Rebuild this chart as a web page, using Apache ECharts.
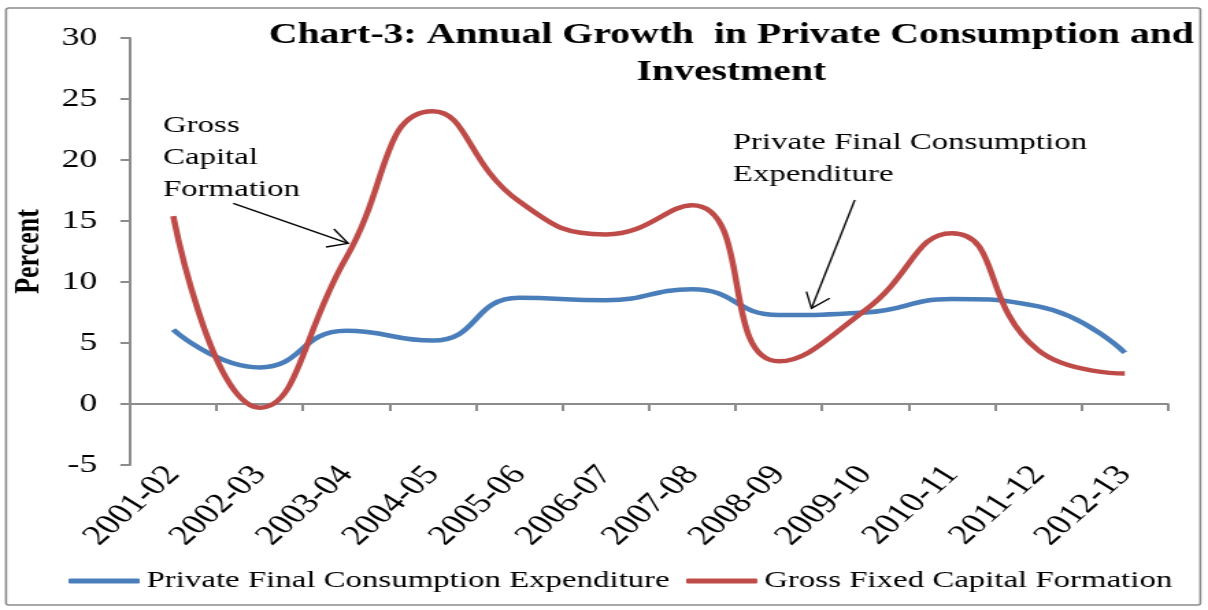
<!DOCTYPE html>
<html>
<head>
<meta charset="utf-8">
<script src="https://cdn.jsdelivr.net/npm/echarts@6/dist/echarts.min.js"></script>
<style>
  html, body { margin: 0; padding: 0; background: #fff; overflow: hidden; }
  /* The reference picture is horizontally stretched; render narrower and stretch */
  #chart { width: 882px; height: 610px; transform: scaleX(1.3696); transform-origin: 0 0; }
</style>
</head>
<body>
<div id="chart"></div>
<script>
const categories = ['2001-02','2002-03','2003-04','2004-05','2005-06','2006-07','2007-08','2008-09','2009-10','2010-11','2011-12','2012-13'];
const pfce = [6.1, 3.0, 6.0, 5.2, 8.7, 8.5, 9.4, 7.3, 7.5, 8.6, 8.0, 4.2];
const gfcf = [15.4, -0.3, 12.0, 24.0, 16.6, 13.9, 16.3, 3.5, 7.7, 14.0, 4.4, 2.5];
const seriesNames = ['Private Final Consumption Expenditure', 'Gross Fixed Capital Formation'];
const yTicks = { min: -5, max: 30, interval: 5 };

const serif = '"Liberation Serif", "DejaVu Serif", serif';
const chart = echarts.init(document.getElementById('chart'));

chart.setOption({
  backgroundColor: '#ffffff',
  animation: false,
  title: {
    text: 'Chart-3: Annual Growth  in Private Consumption and\nInvestment',
    left: 529,
    top: 12,
    textAlign: 'center',
    textStyle: { fontFamily: serif, fontWeight: 'bold', fontSize: 29, lineHeight: 37, color: '#000' }
  },
  legend: {
    data: seriesNames,
    left: 45,
    top: 564,
    itemWidth: 52,
    itemHeight: 5,
    itemGap: 12,
    icon: 'roundRect',
    textStyle: { fontFamily: serif, fontSize: 24, color: '#000' }
  },
  grid: { left: 88.3, right: 29.2, top: 38, bottom: 145, containLabel: false },
  xAxis: {
    type: 'category',
    data: categories,
    boundaryGap: true,
    axisLine: { onZero: true, lineStyle: { color: '#8c8c8c', width: 2 } },
    axisTick: { show: true, alignWithLabel: false, length: 7, lineStyle: { color: '#8c8c8c', width: 2 } },
    axisLabel: { rotate: 50, margin: 5, fontFamily: serif, fontSize: 28, color: '#000', interval: 0 },
    splitLine: { show: false }
  },
  yAxis: {
    type: 'value',
    min: yTicks.min,
    max: yTicks.max,
    interval: yTicks.interval,
    name: 'Percent',
    nameLocation: 'middle',
    nameRotate: 90,
    nameGap: 55,
    nameTextStyle: { fontFamily: serif, fontWeight: 'bold', fontSize: 26, color: '#000' },
    axisLine: { show: true, lineStyle: { color: '#8c8c8c', width: 2 } },
    axisTick: { show: true, length: 7, lineStyle: { color: '#8c8c8c', width: 2 } },
    axisLabel: { margin: 24, fontFamily: serif, fontSize: 26, color: '#000' },
    splitLine: { show: false }
  },
  series: [
    {
      name: seriesNames[0], type: 'line', data: pfce, smooth: 0.5, showSymbol: false,
      lineStyle: { color: '#4A7EBB', width: 4.5 }, itemStyle: { color: '#4A7EBB' }
    },
    {
      name: seriesNames[1], type: 'line', data: gfcf, smooth: 0.5, showSymbol: false,
      lineStyle: { color: '#BE4B48', width: 4.5 }, itemStyle: { color: '#BE4B48' }
    }
  ],
  graphic: [
    { type: 'rect', shape: { x: 4.4, y: 8, width: 872, height: 597, r: 2 }, style: { fill: 'none', stroke: '#8c8c8c', lineWidth: 1.6 }, silent: true, z: -1 },
    { type: 'text', left: 119, top: 110, style: { text: 'Gross\nCapital\nFormation', font: '24px ' + serif, lineHeight: 32, fill: '#000' } },
    { type: 'text', left: 535, top: 127, style: { text: 'Private Final Consumption\nExpenditure', font: '24px ' + serif, lineHeight: 32, fill: '#000' } },
    { type: 'polyline', shape: { points: [[170.3, 203.3], [254.2, 243.3]] }, style: { stroke: '#000', lineWidth: 1.3, fill: 'none' } },
    { type: 'polyline', shape: { points: [[238, 247], [254.2, 243.3], [243.8, 229]] }, style: { stroke: '#000', lineWidth: 1.3, fill: 'none' } },
    { type: 'polyline', shape: { points: [[624.1, 200], [592.5, 308.3]] }, style: { stroke: '#000', lineWidth: 1.3, fill: 'none' } },
    { type: 'polyline', shape: { points: [[588.8, 291.7], [592.5, 308.3], [605.8, 298.3]] }, style: { stroke: '#000', lineWidth: 1.3, fill: 'none' } }
  ]
});
</script>
</body>
</html>
